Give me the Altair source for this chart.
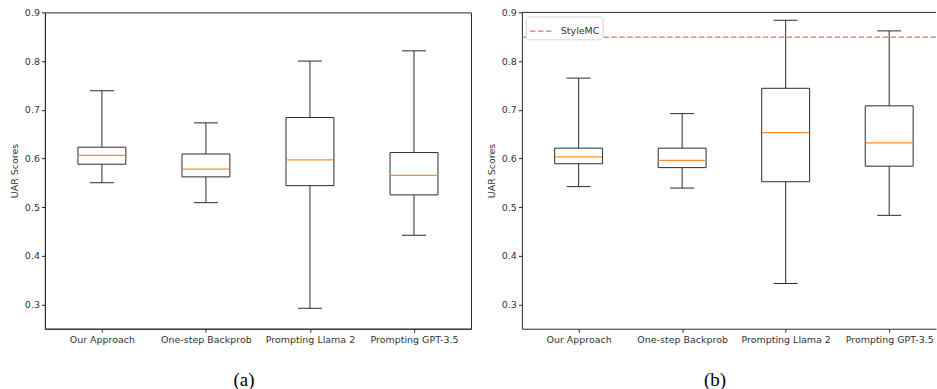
import json
import altair as alt
import pandas as pd

# Methods compared on the x axis
categories = ["Our Approach", "One-step Backprob", "Prompting Llama 2", "Prompting GPT-3.5"]
positions = [1, 2, 3, 4]

# Panel (a): box-plot summary statistics
a_whisker_lo = [0.550, 0.509, 0.292, 0.442]
a_q1 = [0.588, 0.562, 0.544, 0.525]
a_median = [0.606, 0.578, 0.597, 0.565]
a_q3 = [0.623, 0.609, 0.684, 0.612]
a_whisker_hi = [0.739, 0.673, 0.800, 0.821]

# Panel (b): box-plot summary statistics
b_whisker_lo = [0.542, 0.539, 0.343, 0.483]
b_q1 = [0.589, 0.581, 0.552, 0.584]
b_median = [0.603, 0.596, 0.653, 0.632]
b_q3 = [0.621, 0.621, 0.744, 0.708]
b_whisker_hi = [0.765, 0.692, 0.884, 0.862]

# Reference baseline shown in panel (b)
baseline_label = ["StyleMC"]
baseline_value = [0.849]

y_ticks = [0.3, 0.4, 0.5, 0.6, 0.7, 0.8, 0.9]
y_domain = [0.25, 0.9]

EDGE = "#2a2a2a"
TEXT = "#333333"
MEDIAN = "#ff8c2a"
FONT = "DejaVu Sans"

label_expr = json.dumps(categories) + "[datum.value - 1]"


def panel(lo, q1, med, q3, hi, caption, caption_x, width, x_max, framed):
    df = pd.DataFrame({"pos": positions, "lo": lo, "q1": q1, "med": med, "q3": q3, "hi": hi})
    x = alt.X(
        "pos:Q",
        scale=alt.Scale(domain=[0.5, x_max], nice=False, zero=False),
        axis=alt.Axis(values=positions, labelExpr=label_expr, title=caption, grid=False,
                      titleFont="Liberation Serif", titleFontSize=19, titleColor="black",
                      titleFontWeight="normal", titleX=caption_x, titleY=57,
                      titleAlign="center", titleBaseline="alphabetic"),
    )
    y_scale = alt.Scale(domain=y_domain, nice=False, zero=False)
    y_axis = alt.Axis(values=y_ticks, format=".1f", title="UAR Scores", grid=False, titlePadding=5)
    base = alt.Chart(df)

    lower = base.mark_rule(color=EDGE, strokeWidth=1).encode(
        x=x, y=alt.Y("lo:Q", scale=y_scale, axis=y_axis), y2="q1:Q")
    upper = base.mark_rule(color=EDGE, strokeWidth=1).encode(x=x, y=alt.Y("q3:Q"), y2="hi:Q")
    cap_lo = base.mark_tick(orient="horizontal", size=24, thickness=1, color=EDGE, opacity=1).encode(
        x=x, y=alt.Y("lo:Q"))
    cap_hi = base.mark_tick(orient="horizontal", size=24, thickness=1, color=EDGE, opacity=1).encode(
        x=x, y=alt.Y("hi:Q"))
    box = base.mark_bar(size=48, fill="white", stroke=EDGE, strokeWidth=1).encode(
        x=x, y=alt.Y("q1:Q"), y2="q3:Q")
    median = base.mark_tick(orient="horizontal", size=47, thickness=1.3, color=MEDIAN, opacity=1).encode(
        x=x, y=alt.Y("med:Q"))

    layers = [lower, upper, cap_lo, cap_hi, box, median]
    if not framed:
        # top border of the axes box
        top = alt.Chart(pd.DataFrame({"k": [0]})).mark_rule(color=EDGE, strokeWidth=1).encode(
            y=alt.value(0), x=alt.value(0), x2=alt.value(width))
        layers.append(top)
    return layers


left_layers = panel(a_whisker_lo, a_q1, a_median, a_q3, a_whisker_hi, "(a)", 199, 427, 4.5, True)
left = alt.layer(*left_layers).properties(
    width=427, height=317, view=alt.ViewBackground(stroke=EDGE, strokeWidth=1))

right_width = 415
right_layers = panel(b_whisker_lo, b_q1, b_median, b_q3, b_whisker_hi, "(b)", 193, right_width,
                     0.5 + right_width / 106.3, False)

baseline_df = pd.DataFrame({"label": baseline_label, "value": baseline_value})
baseline = alt.Chart(baseline_df).mark_rule(strokeWidth=1.5, strokeDash=[5.5, 2.5]).encode(
    y=alt.Y("value:Q"),
    color=alt.Color(
        "label:N",
        scale=alt.Scale(domain=baseline_label, range=["#ff7f7f"]),
        legend=alt.Legend(orient="top-left", offset=4, title=None, fillColor="white",
                          strokeColor="#d6d6d6", cornerRadius=3, padding=3,
                          symbolType="stroke", symbolDash=[5.5, 2.5], symbolStrokeWidth=1.5,
                          symbolSize=484, labelFontSize=9.5, labelFont=FONT, labelColor=TEXT,
                          labelOffset=8),
    ),
)
right = alt.layer(*right_layers, baseline).properties(
    width=right_width, height=317, view=alt.ViewBackground(stroke=None))

chart = alt.hconcat(left, right, spacing=14).resolve_legend(color="independent").properties(
    padding={"left": 8, "top": 6, "right": 0, "bottom": 0}
).configure_axis(
    domainColor=EDGE, tickColor=EDGE, tickSize=3.5, labelFont=FONT, labelFontSize=9.5,
    labelColor=TEXT, labelPadding=2, titleFont=FONT, titleFontSize=9.5, titleColor=TEXT,
    titleFontWeight="normal",
).configure_view(stroke=None)

chart.save("out.html", embed_options={"renderer": "svg", "actions": False})
